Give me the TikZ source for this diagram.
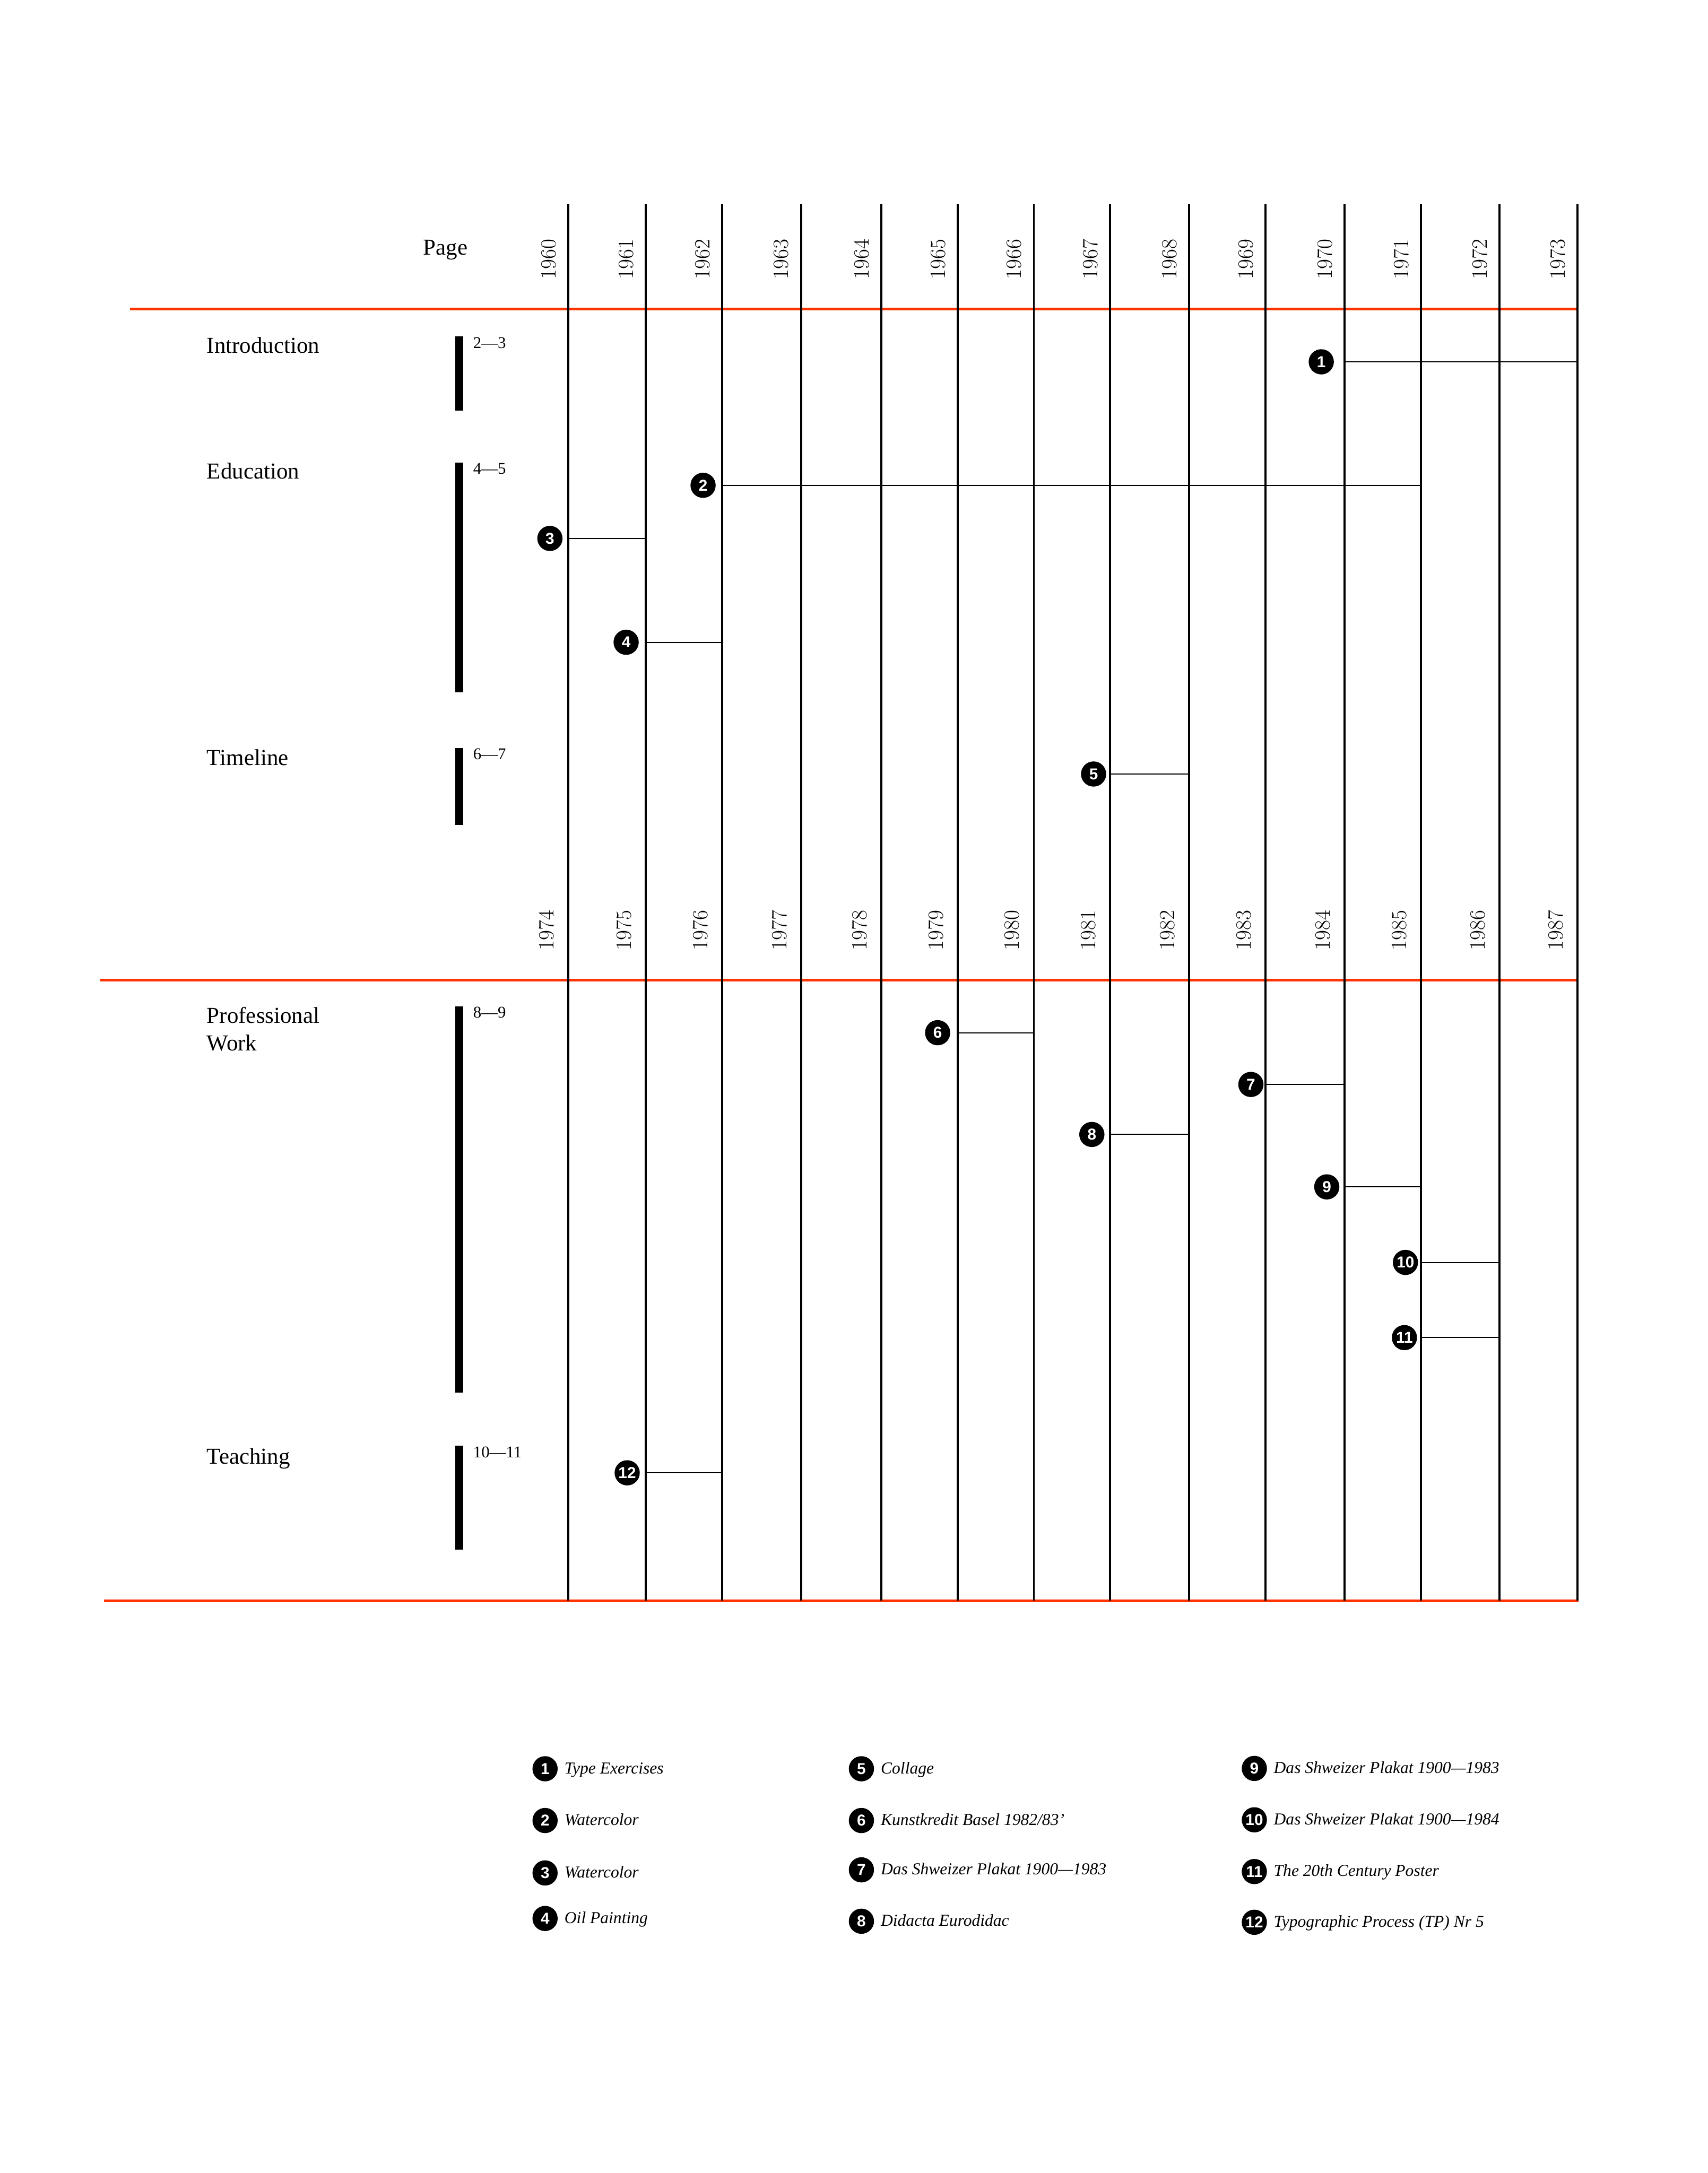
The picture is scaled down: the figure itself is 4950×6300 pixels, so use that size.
\documentclass[tikz,border=0pt]{standalone}
\usepackage{fontspec}
\newfontfamily\serif{Liberation Serif}
\newfontfamily\badgefont{Liberation Sans}
\usetikzlibrary{positioning}
\definecolor{cRule}{RGB}{255,51,0}
\tikzset{
    redrule/.style={draw=cRule, line width=2.3pt},
    yearline/.style={line width=1.7pt},
    link/.style={line width=0.85pt},
    badge/.style={circle, fill=black, text=white, minimum size=0.73cm, inner sep=0pt, font=\badgefont\bfseries\fontsize{13}{13}\selectfont},
    year/.style={rotate=90, inner sep=0pt, font=\fontsize{18}{18}\selectfont},
    section/.style={anchor=base west, inner sep=0pt, font=\serif\fontsize{18.8}{22.7}\selectfont},
    pages/.style={anchor=north west, inner sep=0pt, font=\serif\fontsize{13.5}{13.5}\selectfont},
    legend/.style={anchor=base west, inner sep=0pt, font=\serif\itshape\fontsize{13.8}{13.8}\selectfont},
}

\begin{document}
\begin{tikzpicture}[x=0.01cm, y=-0.01cm]
    \useasboundingbox (0,0) rectangle (4950,6300);
    % red rules
    \draw[redrule] (377,896) -- (4575,896);
    \draw[redrule] (291,2842) -- (4575,2842);
    \draw[redrule] (301,4641) -- (4575,4641);
    % year grid
    \foreach \x [count=\i from 0] in {1647,1872,2093,2322,2555,2776,2997,3218,3447,3668,3897,4119,4347,4573}{
        \coordinate (t\i) at (\x,592);
        \coordinate (b\i) at (\x,4641);
        \draw[yearline] (t\i) -- (b\i);
        \pgfmathtruncatemacro\ya{1960+\i}
        \pgfmathtruncatemacro\yb{1974+\i}
        \node[year] (ya\i) at (\x-57,751) {\ya};
        \node[year] (yb\i) at (\x-63,2697) {\yb};
    }
    \node[section] (page) at (1226,739) {Page};
    % sections and page bars
    \node[section] (intro) at (599,1024) {Introduction};
    \node[section] (edu) at (599,1388) {Education};
    \node[section] (tline) at (599,2218) {Timeline};
    \node[section] (prof) at (599,2966) {Professional};
    \node[section] (work) at (599,3046) {Work};
    \node[section] (teach) at (599,4244) {Teaching};
    \fill (1319,975) rectangle (1343,1191);
    \fill (1319,1341) rectangle (1343,2007);
    \fill (1319,2168) rectangle (1343,2391);
    \fill (1319,2917) rectangle (1343,4038);
    \fill (1319,4191) rectangle (1343,4492);
    \node[pages] (p1) at (1371,977) {2—3};
    \node[pages] (p2) at (1371,1343) {4—5};
    \node[pages] (p3) at (1371,2170) {6—7};
    \node[pages] (p4) at (1371,2919) {8—9};
    \node[pages] (p5) at (1371,4193) {10—11};
    % works
    \node[badge] (m1) at (3830,1049) {1};
    \node[badge] (m2) at (2038,1407) {2};
    \node[badge] (m3) at (1594,1561) {3};
    \node[badge] (m4) at (1815,1862) {4};
    \node[badge] (m5) at (3170,2244) {5};
    \node[badge] (m6) at (2718,2994) {6};
    \node[badge] (m7) at (3626,3144) {7};
    \node[badge] (m8) at (3165,3289) {8};
    \node[badge] (m9) at (3846,3441) {9};
    \node[badge] (m10) at (4074,3660) {10};
    \node[badge] (m11) at (4071,3878) {11};
    \node[badge] (m12) at (1818,4270) {12};
    \draw[link] (m1 -| t10) -- (m1 -| t13);
    \draw[link] (m2 -| t2) -- (m2 -| t11);
    \draw[link] (m3 -| t0) -- (m3 -| t1);
    \draw[link] (m4 -| t1) -- (m4 -| t2);
    \draw[link] (m5 -| t7) -- (m5 -| t8);
    \draw[link] (m6 -| t5) -- (m6 -| t6);
    \draw[link] (m7 -| t9) -- (m7 -| t10);
    \draw[link] (m8 -| t7) -- (m8 -| t8);
    \draw[link] (m9 -| t10) -- (m9 -| t11);
    \draw[link] (m10 -| t11) -- (m10 -| t12);
    \draw[link] (m11 -| t11) -- (m11 -| t12);
    \draw[link] (m12 -| t1) -- (m12 -| t2);
    % legend
    \node[badge] (k1) at (1580,5128) {1};
    \node[badge] (k2) at (1580,5278) {2};
    \node[badge] (k3) at (1580,5430) {3};
    \node[badge] (k4) at (1580,5562) {4};
    \node[badge] (k5) at (2497,5128) {5};
    \node[badge] (k6) at (2497,5278) {6};
    \node[badge] (k7) at (2497,5421) {7};
    \node[badge] (k8) at (2497,5570) {8};
    \node[badge] (k9) at (3636,5127) {9};
    \node[badge] (k10) at (3636,5276) {10};
    \node[badge] (k11) at (3636,5426) {11};
    \node[badge] (k12) at (3636,5573) {12};
    \node[legend] at ([xshift=0.185cm,yshift=-0.14cm]k1.east) {Type Exercises};
    \node[legend] at ([xshift=0.185cm,yshift=-0.14cm]k2.east) {Watercolor};
    \node[legend] at ([xshift=0.185cm,yshift=-0.14cm]k3.east) {Watercolor};
    \node[legend] at ([xshift=0.185cm,yshift=-0.14cm]k4.east) {Oil Painting};
    \node[legend] at ([xshift=0.185cm,yshift=-0.14cm]k5.east) {Collage};
    \node[legend] at ([xshift=0.185cm,yshift=-0.14cm]k6.east) {Kunstkredit Basel 1982/83’};
    \node[legend] at ([xshift=0.185cm,yshift=-0.14cm]k7.east) {Das Shweizer Plakat 1900—1983};
    \node[legend] at ([xshift=0.185cm,yshift=-0.14cm]k8.east) {Didacta Eurodidac};
    \node[legend] at ([xshift=0.185cm,yshift=-0.14cm]k9.east) {Das Shweizer Plakat 1900—1983};
    \node[legend] at ([xshift=0.185cm,yshift=-0.14cm]k10.east) {Das Shweizer Plakat 1900—1984};
    \node[legend] at ([xshift=0.185cm,yshift=-0.14cm]k11.east) {The 20th Century Poster};
    \node[legend] at ([xshift=0.185cm,yshift=-0.14cm]k12.east) {Typographic Process (TP) Nr 5};
\end{tikzpicture}
\end{document}
